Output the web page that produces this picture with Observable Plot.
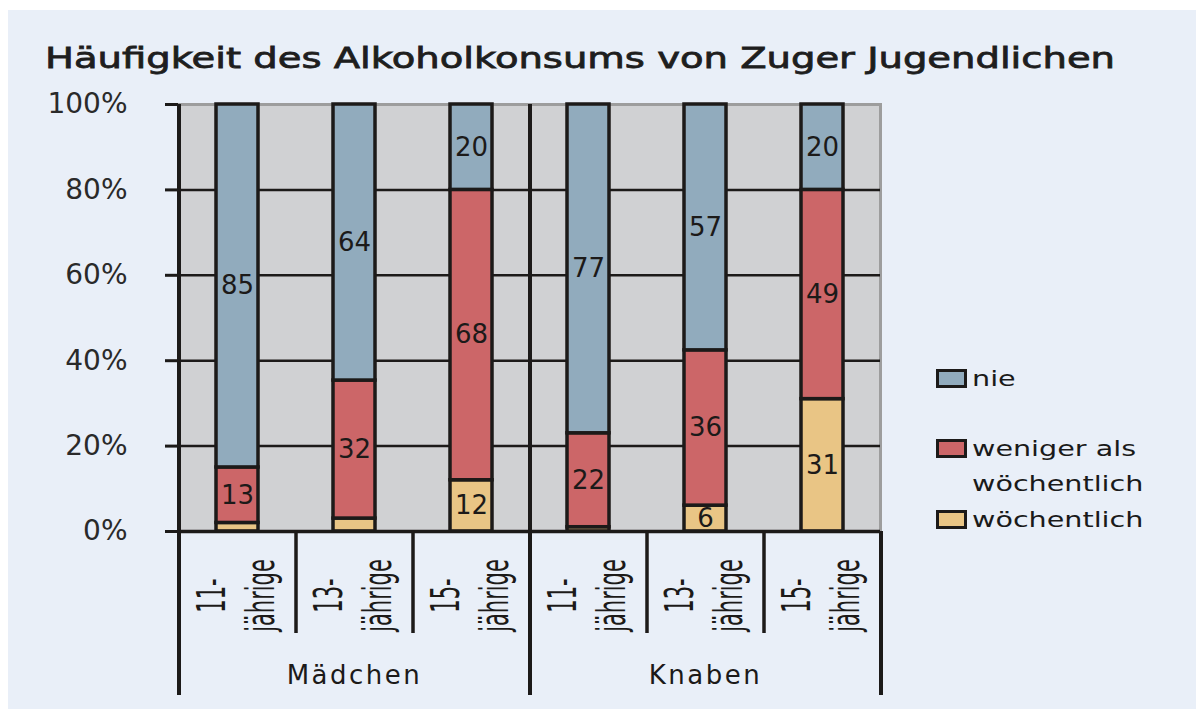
<!DOCTYPE html>
<html><head><meta charset="utf-8">
<script src="https://cdn.jsdelivr.net/npm/d3@7"></script>
<script src="https://cdn.jsdelivr.net/npm/@observablehq/plot@0.6"></script>
<style>
body{margin:0;background:#fff;}
#wrap{position:relative;width:1196px;height:709px;overflow:hidden;background:#fff;font-family:"DejaVu Sans",sans-serif;}
#panel{position:absolute;left:8px;top:10px;right:0;bottom:0;background:#e9eff8;}
#title{position:absolute;left:45px;top:44px;font-size:29px;line-height:29px;color:#1e1e1e;-webkit-text-stroke:0.8px #1e1e1e;white-space:nowrap;transform-origin:0 0;}
#chart{position:absolute;left:0;top:0;}
.item{position:absolute;left:936px;}
.sw{position:absolute;left:0;top:0;width:31px;height:19px;box-sizing:border-box;border:3px solid #1c1a19;}
.lab{position:absolute;left:36px;top:-8px;width:140px;font-size:22px;line-height:35px;color:#1a1a1a;transform:scaleX(1.3);transform-origin:0 0;}
</style></head>
<body>
<div id="wrap"><div id="panel"></div><div id="chart"></div><div id="title">Häufigkeit des Alkoholkonsums von Zuger Jugendlichen</div><div id="legend"></div></div>
<script>
const groups = ["Mädchen", "Knaben"];
const ages = ["11", "13", "15"];
const categories = ["nie", "weniger als wöchentlich", "wöchentlich"];
const colors = ["#91abbd", "#cc6668", "#e9c585"];
const nie = [85, 64, 20, 77, 57, 20];
const weniger = [13, 32, 68, 22, 36, 49];
const woechentlich = [2, 3, 12, 1, 6, 31];
const yTicks = [0, 20, 40, 60, 80, 100];

const keys = groups.flatMap(g => ages.map(a => g + " " + a));
const rows = keys.flatMap((k, i) => [
  {key: k, cat: "wöchentlich", value: woechentlich[i]},
  {key: k, cat: "weniger als wöchentlich", value: weniger[i]},
  {key: k, cat: "nie", value: nie[i]}
]);

const W = 1196, H = 709, ML = 178, MR = 316, MT = 104, MB = 178;
const half = (W - ML - MR) / keys.length / 2;
const ink = "#1c1a19";
const stackOpts = {x: "key", y: "value", z: "cat", offset: "normalize"};

const chart = Plot.plot({
  width: W, height: H,
  marginLeft: ML, marginRight: MR, marginTop: MT, marginBottom: MB,
  style: {background: "transparent", fontFamily: "DejaVu Sans", overflow: "visible"},
  x: {type: "band", domain: keys, paddingInner: 0.645, paddingOuter: 0.3225, axis: null},
  y: {domain: [0, 1], axis: null},
  color: {domain: categories, range: colors},
  marks: [
    Plot.frame({fill: "#d0d1d3", stroke: "#9d9d9d", strokeWidth: 3}),
    Plot.gridY({ticks: yTicks.slice(1, -1).map(v => v / 100), stroke: ink, strokeOpacity: 1, strokeWidth: 2.5}),
    Plot.ruleX([keys[0]], {x: d => d, dx: -half, stroke: ink, strokeWidth: 4}),
    Plot.ruleX([keys[2]], {x: d => d, dx: half, stroke: ink, strokeWidth: 4}),
    Plot.barY(rows, Plot.stackY({...stackOpts, fill: "cat", stroke: ink, strokeWidth: 3.5})),
    Plot.text(rows, Plot.stackY({...stackOpts, text: d => d.value >= 5 ? String(d.value) : "", fontSize: 26, fill: ink})),
    Plot.ruleY([0], {stroke: ink, strokeWidth: 3.5}),
    Plot.axisY({ticks: yTicks.map(v => v / 100), tickFormat: d => Math.round(d * 100) + "%", tickSize: 13, tickPadding: 38, fontSize: 28, color: "#2a2a2a", stroke: ink, strokeWidth: 3, label: null}),
    Plot.axisX({ticks: [keys[0]], tickSize: 164, dx: -half, tickFormat: () => "", stroke: ink, strokeWidth: 4, label: null}),
    Plot.axisX({ticks: [keys[2], keys[5]], tickSize: 164, dx: half, tickFormat: () => "", stroke: ink, strokeWidth: 4, label: null}),
    Plot.axisX({ticks: [keys[0], keys[1], keys[3], keys[4]], tickSize: 102, dx: half, tickFormat: () => "", stroke: ink, strokeWidth: 3.5, label: null}),
    Plot.text(keys, {x: d => d, frameAnchor: "bottom", textAnchor: "middle", lineAnchor: "middle", dy: 64, dx: -4, rotate: -90,
      text: d => d.split(" ")[1] + "-\njährige", lineHeight: 1.25, fontSize: 21, fill: ink}),
    Plot.text(groups, {x: g => g + " " + ages[1], frameAnchor: "bottom", textAnchor: "middle", lineAnchor: "middle", dy: 144, fontSize: 26, fill: ink})
  ]
});
document.getElementById("chart").appendChild(chart);
const svg = d3.select(chart);
svg.selectAll("text").filter(function() { return this.textContent.includes("jährige"); })
  .each(function() {
    const tr = this.getAttribute("transform") || "";
    this.setAttribute("transform", tr + " scale(1,1.9)");
  });
svg.selectAll("text").filter(function() { return groups.includes(this.textContent); })
  .style("letter-spacing", "2.5px");

// title fit
const t = document.getElementById("title");
const tw = t.getBoundingClientRect().width;
t.style.transform = `scaleX(${1070 / tw})`;

// legend
const tops = [369, 439, 510];
const legend = d3.select("#legend");
categories.forEach((c, i) => {
  const it = legend.append("div").attr("class", "item").style("top", tops[i] + "px");
  it.append("div").attr("class", "sw").style("background", colors[i]);
  it.append("div").attr("class", "lab").text(c);
});
</script>
</body></html>
